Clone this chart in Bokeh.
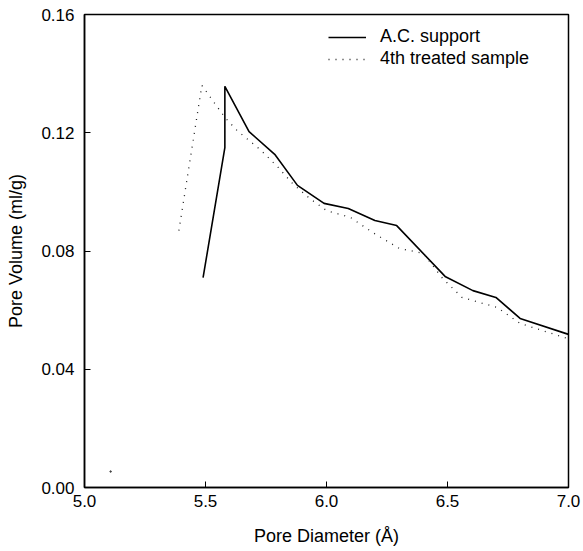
from bokeh.plotting import figure
from bokeh.models import Legend, LegendItem, Range1d, FixedTicker
from bokeh.embed import file_html
from bokeh.resources import INLINE

# A.C. support (solid)
ac_x = [5.49, 5.58, 5.58, 5.68, 5.786, 5.88, 5.99, 6.09, 6.20, 6.29, 6.49, 6.605, 6.70, 6.80, 7.00]
ac_y = [0.0710, 0.115, 0.1357, 0.1204, 0.1127, 0.1022, 0.0961, 0.0944, 0.0903, 0.0886, 0.0714, 0.0666, 0.0643, 0.0572, 0.0518]

# 4th treated sample (dotted)
tr_x = [5.39, 5.485, 5.58, 5.63, 5.73, 5.80, 5.86, 5.93, 6.00, 6.10, 6.19, 6.30, 6.40, 6.48, 6.56, 6.705, 6.80, 7.00]
tr_y = [0.0869, 0.136, 0.1252, 0.1208, 0.114, 0.1083, 0.1028, 0.0978, 0.0937, 0.0913, 0.0863, 0.0809, 0.0792, 0.0707, 0.0643, 0.0609, 0.0555, 0.0503]

# isolated point of treated sample
iso_x = [5.108]
iso_y = [0.0054]

x_ticks = [5.0, 5.5, 6.0, 6.5, 7.0]
y_ticks = [0.00, 0.04, 0.08, 0.12, 0.16]

FONT = "Liberation Sans"

p = figure(width=583, height=551, output_backend="svg", toolbar_location=None,
           x_range=Range1d(5.0, 7.0), y_range=Range1d(0.0, 0.16),
           min_border_left=84, min_border_right=15, min_border_top=14, min_border_bottom=64)

p.grid.visible = False
p.outline_line_color = "black"
p.outline_line_width = 1.5
p.background_fill_color = "white"
p.border_fill_color = "white"

l1 = p.line(ac_x, ac_y, line_color="black", line_width=1.6)
l2 = p.line(tr_x, tr_y, line_color="#222222", line_width=1.3, line_dash="1 6")
p.scatter(iso_x, iso_y, size=1.5, color="#444444")

for ax in (p.xaxis[0], p.yaxis[0]):
    ax.axis_line_color = "black"
    ax.axis_line_width = 1.5
    ax.major_tick_in = 6
    ax.major_tick_out = 0
    ax.minor_tick_line_color = None
    ax.major_label_text_font = FONT
    ax.major_label_text_font_size = "17px"
    ax.major_label_text_color = "black"
    ax.axis_label_text_font = FONT
    ax.axis_label_text_font_size = "18px"
    ax.axis_label_text_font_style = "normal"
    ax.axis_label_text_color = "black"

p.xaxis.ticker = FixedTicker(ticks=x_ticks)
p.yaxis.ticker = FixedTicker(ticks=y_ticks)
p.xaxis.major_label_overrides = {t: f"{t:.1f}" for t in x_ticks}
p.yaxis.major_label_overrides = {t: f"{t:.2f}" for t in y_ticks}
p.xaxis.axis_label = "Pore Diameter (Å)"
p.yaxis.axis_label = "Pore Volume (ml/g)"
p.xaxis.major_label_standoff = 7
p.yaxis.major_label_standoff = 10
p.xaxis.axis_label_standoff = 16
p.yaxis.axis_label_standoff = 12

legend = Legend(items=[LegendItem(label="A.C. support", renderers=[l1]),
                       LegendItem(label="4th treated sample", renderers=[l2])],
                location=(244, 418), padding=0, margin=0, spacing=1,
                border_line_color=None, background_fill_alpha=0,
                label_text_font=FONT, label_text_font_size="18px",
                label_text_color="black",
                glyph_width=38, glyph_height=20, label_height=20, label_standoff=14)
p.add_layout(legend, "center")

open("out.html", "w").write(file_html(p, INLINE))
